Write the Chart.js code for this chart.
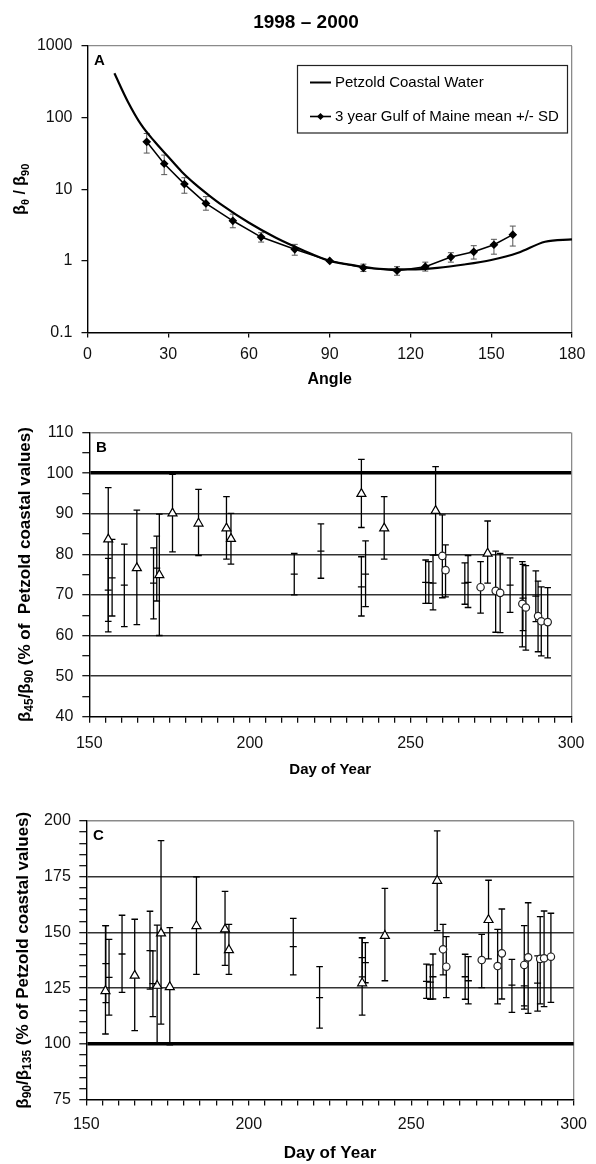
<!DOCTYPE html>
<html>
<head>
<meta charset="utf-8">
<title>1998 - 2000 scattering ratios</title>
<script src="https://cdn.jsdelivr.net/npm/chart.js@4.4.1/dist/chart.umd.min.js"></script>
<style>
  html, body { margin: 0; padding: 0; background: #fff; }
  #wrap { position: relative; width: 596px; height: 1164px; }
  canvas { position: absolute; left: 0; }
</style>
</head>
<body>
<div id="wrap">
  <canvas id="chartA" width="596" height="395" style="top:0px;width:596px;height:395px"></canvas>
  <canvas id="chartB" width="596" height="380" style="top:400px;width:596px;height:380px"></canvas>
  <canvas id="chartC" width="596" height="384" style="top:780px;width:596px;height:384px"></canvas>
</div>
<script>
// ---- panel A : phase function ratio vs angle ----
const petzoldAngle = [10, 15, 20, 25, 30, 35, 40, 45, 50, 60, 70, 80, 90, 100, 110, 120, 130, 140, 150, 160, 170, 180];
const petzoldVal   = [416, 167, 79, 46, 28.4, 17.6, 11.8, 8.3, 6.0, 3.4, 2.1, 1.41, 1.0, 0.855, 0.77, 0.76, 0.80, 0.89, 1.03, 1.30, 1.85, 2.0];

const meanAngle = [22, 28.5, 36, 44, 54, 64.5, 77, 90, 102.5, 115, 125.5, 135, 143.5, 151, 158];
const meanVal   = [46, 22.7, 11.8, 6.35, 3.63, 2.15, 1.45, 1.0, 0.80, 0.73, 0.83, 1.13, 1.34, 1.68, 2.32];
const meanHi    = [60, 30, 14.5, 7.9, 4.5, 2.47, 1.7, 1.0, 0.90, 0.83, 0.96, 1.3, 1.63, 2.0, 3.06];
const meanLo    = [32, 16, 8.8, 5.1, 2.9, 1.83, 1.2, 1.0, 0.71, 0.63, 0.72, 0.96, 1.06, 1.24, 1.61];

const logTicks = [0.1, 1, 10, 100, 1000];

// ---- panel B : b45/b90 as % of Petzold ----
const triBDay = [155.9, 164.8, 171.8, 175.9, 184.0, 192.7, 194.1, 234.7, 241.8, 257.8, 274.0];
const triBVal = [83.7, 76.6, 74.9, 90.1, 87.6, 86.4, 83.8, 94.9, 86.4, 90.7, 80.2];
const triBHi  = [96.4, 90.9, 89.9, 99.7, 96.0, 94.2, 90.1, 103.4, 94.2, 101.6, 88.2];
const triBLo  = [60.9, 62.7, 60.0, 80.6, 79.7, 78.8, 77.6, 86.6, 78.8, 79.8, 72.9];

const circBDay = [259.9, 260.9, 271.8, 276.5, 277.9, 284.8, 285.9, 289.7, 290.7, 292.7];
const circBVal = [79.6, 76.1, 71.9, 71.0, 70.5, 67.8, 66.9, 64.8, 63.5, 63.3];
const circBHi  = [89.7, 82.3, 78.2, 80.8, 80.2, 78.2, 77.2, 73.4, 72.0, 71.8];
const circBLo  = [69.3, 69.5, 65.5, 60.8, 60.7, 57.2, 56.4, 56.0, 55.0, 54.5];

const dashBDay = [155.9, 157.1, 160.9, 170.0, 171.0, 213.8, 222.1, 234.7, 236.0, 254.7, 255.7, 257.0, 266.9, 267.9, 281.0, 285.0, 289.0];
const dashBVal = [71.2, 74.2, 72.4, 72.9, 76.6, 75.1, 80.8, 72.0, 75.1, 73.1, 73.0, 72.9, 72.9, 73.1, 72.4, 69.2, 69.7];
const dashBHi  = [79.0, 83.7, 82.5, 81.6, 84.5, 80.2, 87.5, 79.4, 83.3, 78.6, 78.2, 79.8, 77.9, 79.7, 79.1, 77.5, 75.9];
const dashBLo  = [63.5, 64.8, 62.2, 64.1, 68.5, 70.0, 74.1, 64.8, 67.1, 67.9, 67.9, 66.3, 67.7, 66.9, 65.7, 61.2, 63.4];

// ---- panel C : b90/b135 as % of Petzold ----
const triCDay = [155.9, 164.9, 171.8, 173.0, 175.7, 183.9, 192.7, 193.9, 234.9, 241.9, 258.0, 273.8];
const triCVal = [123.7, 130.6, 126.1, 149.6, 125.5, 152.9, 151.4, 142.1, 127.2, 148.5, 173.2, 155.6];
const triCHi  = [153.0, 155.9, 153.3, 191.2, 152.1, 174.9, 168.4, 153.6, 147.6, 169.8, 195.6, 173.4];
const triCLo  = [104.4, 105.9, 100.2, 108.8, 99.5, 131.2, 135.2, 131.2, 112.9, 128.3, 150.8, 138.1];

const circCDay = [259.8, 260.8, 271.7, 276.6, 277.9, 284.8, 286.0, 289.7, 290.9, 293.0];
const circCVal = [142.4, 134.6, 137.6, 134.9, 140.6, 135.4, 138.8, 138.1, 138.4, 139.1];
const circCHi  = [153.6, 148.1, 149.1, 151.4, 160.5, 153.0, 163.3, 157.1, 159.6, 158.6];
const circCLo  = [130.9, 120.7, 125.2, 117.9, 120.1, 115.6, 113.7, 117.9, 116.7, 118.6];

const dashCDay = [156.0, 157.0, 161.0, 169.6, 170.5, 213.7, 221.8, 234.9, 235.9, 254.7, 255.9, 256.7, 266.6, 267.6, 281.0, 284.8, 288.9];
const dashCVal = [136.0, 129.8, 140.3, 141.8, 127.0, 143.6, 120.7, 138.7, 136.4, 128.0, 127.7, 130.1, 130.1, 128.3, 126.3, 126.0, 127.2];
const dashCHi  = [153.0, 146.9, 157.7, 159.5, 141.7, 156.3, 134.6, 147.6, 145.4, 135.8, 135.4, 140.3, 140.2, 139.1, 137.9, 135.0, 139.5];
const dashCLo  = [118.5, 112.9, 123.1, 124.5, 112.2, 130.9, 107.0, 130.0, 127.4, 120.4, 120.0, 120.1, 120.0, 117.9, 114.1, 117.0, 114.7];

const FONT = '"Liberation Sans", Arial, Helvetica, sans-serif';
Chart.defaults.font.family = FONT;
Chart.defaults.color = '#000';
Chart.defaults.animation = false;
Chart.defaults.events = [];
Chart.defaults.plugins.legend.display = false;
Chart.defaults.plugins.tooltip.enabled = false;

const pts = (xs, ys) => xs.map((x, i) => ({x: x, y: ys[i]}));

// vertical error bars with caps, drawn under the markers
const errorBars = {
  id: 'errorBars',
  beforeDatasetsDraw(chart) {
    const ctx = chart.ctx;
    const ys = chart.scales.y;
    chart.data.datasets.forEach((ds, i) => {
      if (!ds.errHi) return;
      const meta = chart.getDatasetMeta(i);
      const cap = ds.errCap || 3.3;
      ctx.save();
      ctx.strokeStyle = ds.errColor || '#000';
      ctx.lineWidth = ds.errWidth || 1.3;
      meta.data.forEach((el, j) => {
        const x = el.x;
        const top = ys.getPixelForValue(ds.errHi[j]);
        const bot = ys.getPixelForValue(ds.errLo[j]);
        ctx.beginPath();
        ctx.moveTo(x, top); ctx.lineTo(x, bot);
        ctx.moveTo(x - cap, top); ctx.lineTo(x + cap, top);
        ctx.moveTo(x - cap, bot); ctx.lineTo(x + cap, bot);
        ctx.stroke();
      });
      ctx.restore();
    });
  }
};

// text with subscripts, optionally rotated
function richText(ctx, parts, x, y, size, rotate) {
  ctx.save();
  ctx.translate(x, y);
  if (rotate) ctx.rotate(-Math.PI / 2);
  ctx.textBaseline = 'middle';
  ctx.textAlign = 'left';
  ctx.fillStyle = '#000';
  const fonts = parts.map(p => 'bold ' + (p[1] ? Math.round(size * 0.68) : size) + 'px ' + FONT);
  let total = 0;
  parts.forEach((p, i) => { ctx.font = fonts[i]; total += ctx.measureText(p[0]).width; });
  let cx = -total / 2;
  parts.forEach((p, i) => {
    ctx.font = fonts[i];
    ctx.fillText(p[0], cx, p[1] ? size * 0.3 : 0);
    cx += ctx.measureText(p[0]).width;
  });
  ctx.restore();
}

function decorations(letter, yTitle, titleX, titleSize, extra) {
  return {
    id: 'decor' + letter,
    afterDraw(chart) {
      const ctx = chart.ctx;
      const ca = chart.chartArea;
      ctx.save();
      ctx.fillStyle = '#000';
      ctx.font = 'bold 15px ' + FONT;
      ctx.textAlign = 'center';
      ctx.textBaseline = 'middle';
      ctx.fillText(letter, ca.left + 12, ca.top + 15);
      ctx.restore();
      richText(ctx, yTitle, titleX, (ca.top + ca.bottom) / 2, titleSize, true);
      if (extra) extra(chart);
    }
  };
}

function linearY(min, max, step, labelEvery, gridVals, thickVal, width, tickLen, pad) {
  return {
    type: 'linear', min: min, max: max,
    afterFit: s => { s.width = width; },
    ticks: {
      stepSize: step, autoSkip: false, padding: pad, font: {size: 16}, color: '#111',
      callback: v => (v % labelEvery === 0 ? v : '')
    },
    grid: {
      color: c => {
        const v = c.tick ? c.tick.value : null;
        if (v === max) return '#8a8a8a';
        if (v === thickVal) return '#000';
        return gridVals.indexOf(v) >= 0 ? '#333' : 'rgba(0,0,0,0)';
      },
      lineWidth: c => (c.tick && c.tick.value === thickVal ? 3.6 : 1.4),
      tickColor: '#000', tickWidth: 1.2, tickLength: tickLen
    },
    border: {color: '#000', width: 1.4}
  };
}

function dayX(height, pad, titleSize, titlePad) {
  return {
    type: 'linear', min: 150, max: 300,
    afterFit: s => { s.height = height; },
    ticks: {
      stepSize: 5, autoSkip: false, maxRotation: 0, padding: pad, font: {size: 16}, color: '#111',
      callback: v => (v % 50 === 0 ? v : '')
    },
    grid: {
      color: c => (c.tick && c.tick.value === 300 ? '#8a8a8a' : 'rgba(0,0,0,0)'),
      lineWidth: 1.3, tickColor: '#000', tickWidth: 1.2, tickLength: 6
    },
    border: {color: '#000', width: 1.4},
    title: {display: true, text: 'Day of Year', font: {size: titleSize, weight: 'bold'}, color: '#000', padding: {top: 0, bottom: titlePad}}
  };
}

function dayDatasets(tD, tV, tH, tL, cD, cV, cH, cL, dD, dV, dH, dL) {
  return [
    {label: 'dash', data: pts(dD, dV), errHi: dH, errLo: dL, pointStyle: 'line', pointRadius: 3.5,
     borderColor: '#000', borderWidth: 1.3, backgroundColor: '#000'},
    {label: 'triangles', data: pts(tD, tV), errHi: tH, errLo: tL, pointStyle: 'triangle', pointRadius: 5.2,
     borderColor: '#000', borderWidth: 1.2, backgroundColor: '#fff'},
    {label: 'circles', data: pts(cD, cV), errHi: cH, errLo: cL, pointStyle: 'circle', pointRadius: 3.7,
     borderColor: '#222', borderWidth: 1.2, backgroundColor: '#fff'}
  ];
}

// ---------------- Panel A ----------------
const legendA = chart => {
  const ctx = chart.ctx;
  ctx.save();
  ctx.fillStyle = '#fff';
  ctx.fillRect(297.5, 65.5, 270, 67.5);
  ctx.strokeStyle = '#222';
  ctx.lineWidth = 1.2;
  ctx.strokeRect(297.5, 65.5, 270, 67.5);
  ctx.strokeStyle = '#000';
  ctx.lineWidth = 2;
  ctx.beginPath(); ctx.moveTo(310, 82.5); ctx.lineTo(331, 82.5); ctx.stroke();
  ctx.lineWidth = 1.6;
  ctx.beginPath(); ctx.moveTo(310, 116.5); ctx.lineTo(331, 116.5); ctx.stroke();
  ctx.fillStyle = '#000';
  ctx.beginPath();
  ctx.moveTo(320.5, 113); ctx.lineTo(324, 116.5); ctx.lineTo(320.5, 120); ctx.lineTo(317, 116.5);
  ctx.closePath(); ctx.fill();
  ctx.font = '15px ' + FONT;
  ctx.textBaseline = 'middle';
  ctx.textAlign = 'left';
  ctx.fillText('Petzold Coastal Water', 335, 82.5);
  ctx.fillText('3 year Gulf of Maine mean +/- SD', 335, 116.5);
  ctx.font = 'bold 19px ' + FONT;
  ctx.textAlign = 'center';
  ctx.fillText('1998 \u2013 2000', 306, 23);
  ctx.restore();
};

new Chart(document.getElementById('chartA'), {
  type: 'scatter',
  data: {
    datasets: [
      {label: 'Petzold Coastal Water', data: pts(petzoldAngle, petzoldVal), showLine: true, pointRadius: 0,
       borderColor: '#000', borderWidth: 2.2, cubicInterpolationMode: 'monotone'},
      {label: '3 year Gulf of Maine mean +/- SD', data: pts(meanAngle, meanVal), showLine: true,
       errHi: meanHi, errLo: meanLo, errColor: '#555', errWidth: 1, errCap: 3,
       pointStyle: 'rectRot', pointRadius: 3.3, backgroundColor: '#000', borderColor: '#000', borderWidth: 1.5}
    ]
  },
  options: {
    responsive: false,
    layout: {padding: {left: 0, top: 46, right: 24, bottom: 0}},
    scales: {
      x: {
        type: 'linear', min: 0, max: 180,
        afterFit: s => { s.height = 62.5; },
        ticks: {stepSize: 30, autoSkip: false, maxRotation: 0, padding: 7, font: {size: 16}, color: '#111'},
        grid: {
          color: c => (c.tick && c.tick.value === 180 ? '#8a8a8a' : 'rgba(0,0,0,0)'),
          lineWidth: 1.3, tickColor: '#000', tickWidth: 1.2, tickLength: 5
        },
        border: {color: '#000', width: 1.4},
        title: {display: true, text: 'Angle', font: {size: 16, weight: 'bold'}, color: '#000', padding: {top: 0, bottom: 6}}
      },
      y: {
        type: 'logarithmic', min: 0.1, max: 1000,
        afterBuildTicks: s => { s.ticks = logTicks.map(v => ({value: v})); },
        afterFit: s => { s.width = 87.5; },
        ticks: {autoSkip: false, padding: 9, font: {size: 16}, color: '#111', callback: v => String(v)},
        grid: {
          color: c => (c.tick && c.tick.value === 1000 ? '#8a8a8a' : 'rgba(0,0,0,0)'),
          lineWidth: 1.3, tickColor: '#000', tickWidth: 1.2, tickLength: 6
        },
        border: {color: '#000', width: 1.4}
      }
    }
  },
  plugins: [errorBars, decorations('A', [['\u03B2'], ['\u03B8', true], [' / \u03B2'], ['90', true]], 21, 16, legendA)]
});

// ---------------- Panel B ----------------
new Chart(document.getElementById('chartB'), {
  type: 'scatter',
  data: {datasets: dayDatasets(triBDay, triBVal, triBHi, triBLo, circBDay, circBVal, circBHi, circBLo, dashBDay, dashBVal, dashBHi, dashBLo)},
  options: {
    responsive: false,
    layout: {padding: {left: 0, top: 32.5, right: 21, bottom: 0}},
    scales: {
      x: dayX(63.3, 11.5, 15, 1.6),
      y: linearY(40, 110, 5, 10, [50, 60, 70, 80, 90], 100, 89.3, 7, 9)
    }
  },
  plugins: [errorBars, decorations('B', [['\u03B2'], ['45', true], ['/\u03B2'], ['90', true], [' (% of  Petzold coastal values)']], 25, 17)]
});

// ---------------- Panel C ----------------
new Chart(document.getElementById('chartC'), {
  type: 'scatter',
  data: {datasets: dayDatasets(triCDay, triCVal, triCHi, triCLo, circCDay, circCVal, circCHi, circCLo, dashCDay, dashCVal, dashCHi, dashCLo)},
  options: {
    responsive: false,
    layout: {padding: {left: 0, top: 41, right: 16, bottom: 0}},
    scales: {
      x: dayX(64.5, 9, 17, 0.5),
      y: linearY(75, 200, 5, 25, [125, 150, 175], 100, 86.3, 7, 8.5)
    }
  },
  plugins: [errorBars, decorations('C', [['\u03B2'], ['90', true], ['/\u03B2'], ['135', true], [' (% of Petzold coastal values)']], 23, 17)]
});
</script>
</body>
</html>
